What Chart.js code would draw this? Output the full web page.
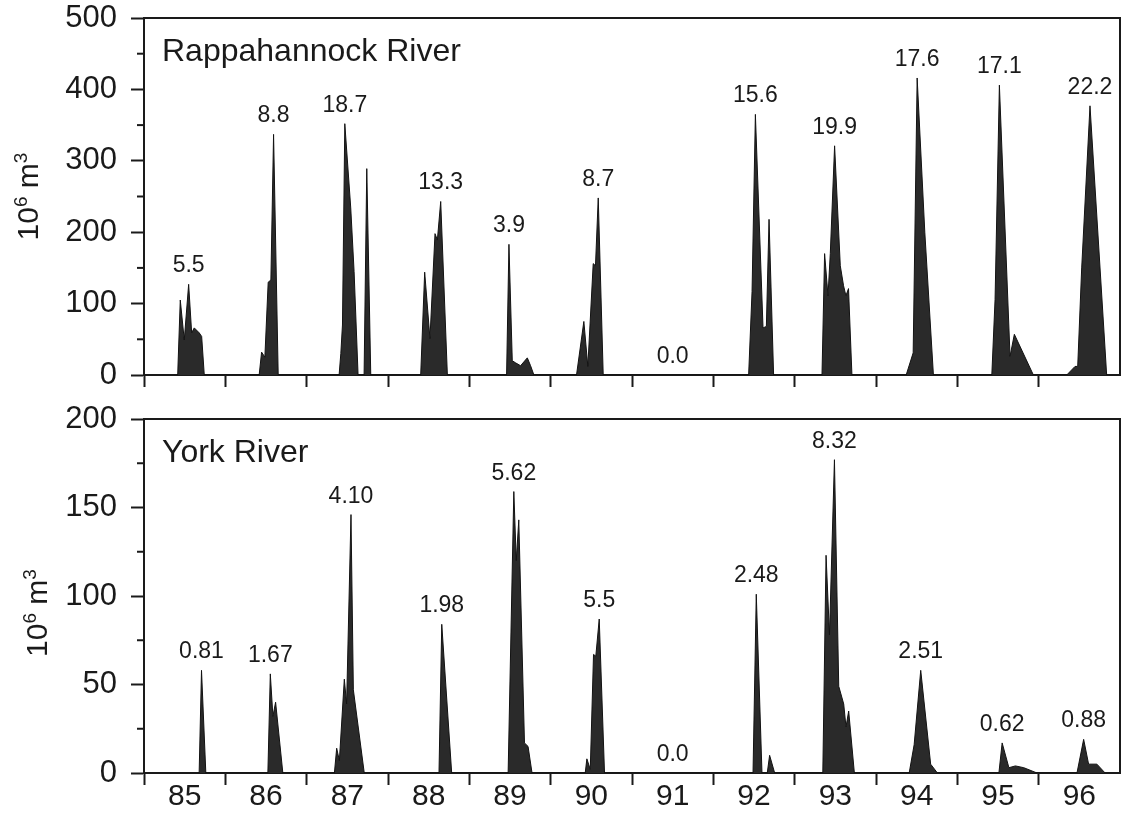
<!DOCTYPE html>
<html>
<head>
<meta charset="utf-8">
<title>Rappahannock and York River</title>
<script src="https://cdn.jsdelivr.net/npm/chart.js@4"></script>
<style>
  html, body { margin: 0; padding: 0; background: #fff; }
  #wrap { position: relative; width: 1123px; height: 815px; }
  canvas { position: absolute; left: 0; }
  #rappChart { top: 0; }
  #yorkChart { top: 400px; }
</style>
</head>
<body>
<div id="wrap">
  <canvas id="rappChart" width="1123" height="400"></canvas>
  <canvas id="yorkChart" width="1123" height="415"></canvas>
</div>
<script>
// year axis
const yearLabels = ['85', '86', '87', '88', '89', '90', '91', '92', '93', '94', '95', '96'];

// Rappahannock River, volume (10^6 m3) against decimal year
const rappX = [
  85.414, 85.446, 85.495, 85.549, 85.586, 85.618, 85.679, 85.709, 85.741,
  86.416, 86.446, 86.486, 86.527, 86.560, 86.593, 86.650,
  87.399, 87.420, 87.440, 87.469, 87.542, 87.583, 87.632, 87.706, 87.739, 87.788,
  88.402, 88.451, 88.516, 88.578, 88.607, 88.648, 88.730,
  89.458, 89.487, 89.528, 89.569, 89.630, 89.713, 89.753, 89.794,
  90.318, 90.408, 90.457, 90.523, 90.551, 90.585, 90.646,
  92.434, 92.476, 92.517, 92.611, 92.652, 92.685, 92.741,
  93.336, 93.368, 93.410, 93.438, 93.491, 93.561, 93.601, 93.630, 93.662, 93.704,
  94.371, 94.457, 94.506, 94.600, 94.706,
  95.424, 95.464, 95.517, 95.648, 95.701, 95.935,
  96.345, 96.447, 96.480, 96.529, 96.631, 96.836
];
const rappY = [
  0, 105, 49, 127, 59, 66, 59, 54, 0,
  0, 32, 25, 130, 133, 337, 0,
  0, 30, 70, 352, 234, 145, 0, 0, 289, 0,
  0, 144, 51, 198, 189, 243, 0,
  0, 183, 20, 17, 13, 24, 13, 0,
  0, 75, 12, 156, 153, 248, 0,
  0, 117, 365, 66, 68, 218, 0,
  0, 170, 111, 170, 321, 153, 125, 111, 121, 0,
  0, 31, 416, 200, 0,
  0, 106, 406, 26, 57, 0,
  0, 12, 12, 150, 377, 0
];

// York River, volume (10^6 m3) against decimal year
const yorkX = [
  85.678, 85.707, 85.760,
  86.523, 86.553, 86.585, 86.618, 86.707,
  87.341, 87.369, 87.402, 87.463, 87.491, 87.545, 87.574, 87.708,
  88.627, 88.661, 88.783,
  89.477, 89.547, 89.577, 89.608, 89.678, 89.722, 89.771,
  90.425, 90.445, 90.487, 90.527, 90.555, 90.597, 90.662,
  92.488, 92.528, 92.598, 92.663, 92.692, 92.754,
  93.346, 93.386, 93.428, 93.489, 93.542, 93.603, 93.631, 93.664, 93.734,
  94.408, 94.469, 94.550, 94.672, 94.755,
  95.511, 95.551, 95.634, 95.714, 95.817, 95.980,
  96.471, 96.553, 96.614, 96.716, 96.817
];
const yorkY = [
  0, 58, 0,
  0, 56, 32, 40, 0,
  0, 14, 7, 53, 39, 146, 47, 0,
  0, 84, 0,
  0, 159, 120, 143, 17, 15, 0,
  0, 8, 2, 67, 66, 87, 0,
  0, 101, 0, 0, 10, 0,
  0, 123, 78, 177, 49, 39, 26, 35, 0,
  0, 16, 58, 5, 0,
  0, 17, 3, 4, 3, 0,
  0, 19, 5, 5, 0
];

// annual totals printed over each year
const rappTotals = ['5.5', '8.8', '18.7', '13.3', '3.9', '8.7', '0.0', '15.6', '19.9', '17.6', '17.1', '22.2'];
const yorkTotals = ['0.81', '1.67', '4.10', '1.98', '5.62', '5.5', '0.0', '2.48', '8.32', '2.51', '0.62', '0.88'];

const INK = '#1a1a1a';
const FONT = '"Liberation Sans", Arial, Helvetica, sans-serif';
const firstYear = Number(yearLabels[0]);

function toPoints(xs, ys) {
    return xs.map((x, i) => ({ x: x, y: ys[i] }));
}

// frame, minor ticks, totals, river name and unit label
const panelDecor = {
    id: 'panelDecor',
    afterDatasetsDraw(chart, args, opts) {
        const ctx = chart.ctx;
        const a = chart.chartArea;
        const xs = chart.scales.x;
        const ys = chart.scales.y;
        ctx.save();
        ctx.strokeStyle = INK;
        ctx.lineWidth = 2;
        ctx.beginPath();
        ctx.moveTo(a.left - 1, a.top);
        ctx.lineTo(a.right, a.top);
        ctx.lineTo(a.right, a.bottom);
        ctx.stroke();

        for (let v = opts.step / 2; v < ys.max; v += opts.step) {
            const py = ys.getPixelForValue(v);
            ctx.beginPath();
            ctx.moveTo(a.left - 7, py);
            ctx.lineTo(a.left, py);
            ctx.stroke();
        }

        // total goes over the highest peak of its year
        const pts = chart.data.datasets[0].data;
        ctx.fillStyle = INK;
        ctx.font = '23px ' + FONT;
        ctx.textAlign = 'center';
        ctx.textBaseline = 'alphabetic';
        opts.totals.forEach((t, i) => {
            const y0 = firstYear + i;
            let best = null;
            pts.forEach(p => {
                if (p.x >= y0 && p.x < y0 + 1 && (!best || p.y > best.y)) best = p;
            });
            const top = best ? best.y : 0;
            const px = top > 0 ? xs.getPixelForValue(best.x) : xs.getPixelForValue(y0 + 0.5);
            ctx.fillText(t, px, ys.getPixelForValue(top) - 12);
        });

        ctx.textAlign = 'left';
        ctx.font = '32px ' + FONT;
        ctx.fillText(opts.name, a.left + 18, a.top + 43);

        ctx.translate(opts.titleX, (a.top + a.bottom) / 2 + opts.titleShift);
        ctx.rotate(-Math.PI / 2);
        const parts = [['10', 30, 0], ['6', 19, -11], [' m', 30, 0], ['3', 19, -11]];
        let w = 0;
        parts.forEach(p => { ctx.font = p[1] + 'px ' + FONT; w += ctx.measureText(p[0]).width; });
        let cx = -w / 2;
        parts.forEach(p => {
            ctx.font = p[1] + 'px ' + FONT;
            ctx.fillText(p[0], cx, p[2]);
            cx += ctx.measureText(p[0]).width;
        });
        ctx.restore();
    }
};

function makeRiverChart(canvasId, xs, ys, o) {
    const canvas = document.getElementById(canvasId);
    return new Chart(canvas.getContext('2d'), {
        type: 'line',
        data: {
            datasets: [{
                data: toPoints(xs, ys),
                fill: 'origin',
                backgroundColor: '#2a2a2a',
                borderColor: '#121212',
                borderWidth: 1,
                pointRadius: 0,
                tension: 0
            }]
        },
        options: {
            responsive: false,
            animation: false,
            events: [],
            layout: { padding: { top: o.padTop, right: 3, left: 0, bottom: 0 } },
            plugins: {
                legend: { display: false },
                tooltip: { enabled: false },
                panelDecor: o.decor
            },
            scales: {
                x: {
                    type: 'linear',
                    min: firstYear,
                    max: firstYear + yearLabels.length,
                    // year boundaries get a tick mark, mid-years carry the label
                    afterBuildTicks: s => {
                        const t = [];
                        yearLabels.forEach((lab, i) => {
                            t.push({ value: firstYear + i });
                            t.push({ value: firstYear + i + 0.5 });
                        });
                        s.ticks = t;
                    },
                    afterFit: s => {
                        s.height = o.xHeight;
                        s.paddingLeft = 0;
                        s.paddingRight = 0;
                    },
                    grid: {
                        drawOnChartArea: false,
                        tickLength: 12,
                        tickWidth: 2,
                        tickColor: c => (c.tick && c.tick.value % 1 ? 'rgba(0,0,0,0)' : INK)
                    },
                    border: { display: true, width: 2, color: INK },
                    ticks: {
                        display: o.showYears,
                        autoSkip: false,
                        maxRotation: 0,
                        padding: -3,
                        color: INK,
                        font: { family: FONT, size: 30, lineHeight: 1 },
                        callback: v => (v % 1 ? yearLabels[Math.floor(v) - firstYear] : '')
                    }
                },
                y: {
                    min: 0,
                    max: o.max,
                    afterFit: s => {
                        s.width = 144;
                        s.paddingTop = 0;
                        s.paddingBottom = 0;
                    },
                    grid: { drawOnChartArea: false, tickLength: 13, tickWidth: 2, tickColor: INK },
                    border: { display: true, width: 2, color: INK },
                    ticks: {
                        stepSize: o.step,
                        padding: 14,
                        color: INK,
                        font: { family: FONT, size: 31, lineHeight: 1 }
                    }
                }
            }
        },
        plugins: [panelDecor]
    });
}

makeRiverChart('rappChart', rappX, rappY, {
    padTop: 18, xHeight: 25, max: 500, step: 100, showYears: false,
    decor: { name: 'Rappahannock River', totals: rappTotals, step: 100, titleX: 38, titleShift: 0 }
});

makeRiverChart('yorkChart', yorkX, yorkY, {
    padTop: 19, xHeight: 42, max: 200, step: 50, showYears: true,
    decor: { name: 'York River', totals: yorkTotals, step: 50, titleX: 47, titleShift: 17 }
});
</script>
</body>
</html>
